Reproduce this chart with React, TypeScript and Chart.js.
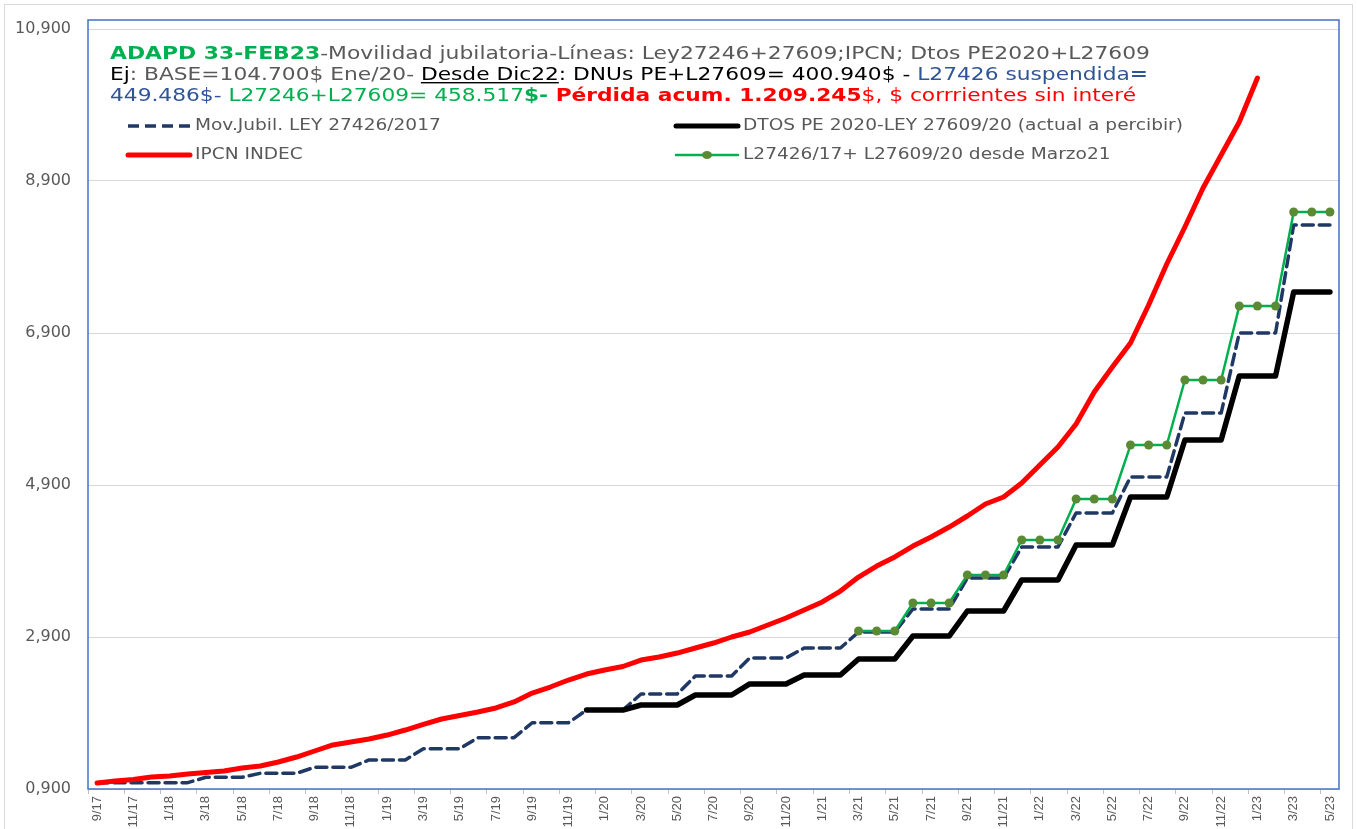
import React, { useEffect, useRef } from 'react';
import { Chart, registerables } from 'chart.js';

Chart.register(...registerables);

const months = [
  '9/17', '10/17', '11/17', '12/17',
  '1/18', '2/18', '3/18', '4/18', '5/18', '6/18', '7/18', '8/18', '9/18', '10/18', '11/18', '12/18',
  '1/19', '2/19', '3/19', '4/19', '5/19', '6/19', '7/19', '8/19', '9/19', '10/19', '11/19', '12/19',
  '1/20', '2/20', '3/20', '4/20', '5/20', '6/20', '7/20', '8/20', '9/20', '10/20', '11/20', '12/20',
  '1/21', '2/21', '3/21', '4/21', '5/21', '6/21', '7/21', '8/21', '9/21', '10/21', '11/21', '12/21',
  '1/22', '2/22', '3/22', '4/22', '5/22', '6/22', '7/22', '8/22', '9/22', '10/22', '11/22', '12/22',
  '1/23', '2/23', '3/23', '4/23', '5/23',
];

const movLey27426 = [
  983, 983, 983, 983, 983, 983,
  1054, 1054, 1054, 1107, 1107, 1107, 1186, 1186, 1186, 1282, 1282, 1282,
  1430, 1430, 1430, 1575, 1575, 1575, 1772, 1772, 1772, 1939, 1939, 1939,
  2150, 2150, 2150, 2387, 2387, 2387, 2624, 2624, 2624, 2755, 2755, 2755,
  2966, 2966, 2966, 3268, 3268, 3268, 3676, 3676, 3676, 4084, 4084, 4084,
  4532, 4532, 4532, 5005, 5005, 5005, 5847, 5847, 5847, 6900, 6900, 6900,
  8321, 8321, 8321,
];

const dtosPE = [
  null, null, null, null, null, null, null, null, null, null, null, null, null, null, null,
  null, null, null, null, null, null, null, null, null, null, null, null,
  1939, 1939, 1939, 2005, 2005, 2005, 2137, 2137, 2137, 2282, 2282, 2282,
  2400, 2400, 2400, 2611, 2611, 2611, 2913, 2913, 2913, 3242, 3242, 3242,
  3650, 3650, 3650, 4111, 4111, 4111, 4742, 4742, 4742, 5492, 5492, 5492,
  6334, 6334, 6334, 7439, 7439, 7439,
];

const ipcnIndec = [
  979, 1005, 1025, 1058, 1071, 1097, 1117, 1137, 1176, 1203, 1255, 1321, 1400, 1479, 1518,
  1558, 1610, 1676, 1749, 1821, 1867, 1913, 1966, 2045, 2163, 2242, 2334, 2413, 2466, 2512,
  2597, 2637, 2689, 2755, 2821, 2900, 2966, 3058, 3150, 3255, 3361, 3505, 3689, 3834, 3953,
  4097, 4216, 4347, 4492, 4650, 4742, 4926, 5163, 5400, 5703, 6124, 6453, 6768, 7268, 7808,
  8295, 8808, 9242, 9676, 10255, null, null, null, null,
];

const l27426L27609 = [
  null, null, null, null, null, null, null, null, null, null, null, null, null, null,
  null, null, null, null, null, null, null, null, null, null, null, null, null, null,
  null, null, null, null, null, null, null, null, null, null, null, null, null, null,
  2979, 2979, 2979, 3347, 3347, 3347, 3716, 3716, 3716, 4176, 4176, 4176,
  4716, 4716, 4716, 5426, 5426, 5426, 6282, 6282, 6282, 7255, 7255, 7255,
  8492, 8492, 8492,
];

const yTicks = [900, 2900, 4900, 6900, 8900, 10900];

const seriesLabels = [
  'Mov.Jubil. LEY 27426/2017',
  'DTOS PE 2020-LEY 27609/20 (actual a percibir)',
  'IPCN INDEC',
  'L27426/17+ L27609/20 desde Marzo21',
];

type Seg = { t: string; c: string; b?: boolean; u?: boolean };

const titleLines: Seg[][] = [
  [
    { t: 'ADAPD 33-FEB23', c: '#00b050', b: true },
    { t: '-Movilidad jubilatoria-Líneas: Ley27246+27609;IPCN; Dtos PE2020+L27609', c: '#595959' },
  ],
  [
    { t: 'Ej', c: '#000000' },
    { t: ': BASE=104.700$ Ene/20- ', c: '#595959' },
    { t: 'Desde Dic22', c: '#000000', u: true },
    { t: ': DNUs PE+L27609= 400.940$ - ', c: '#000000' },
    { t: 'L27426 suspendida', c: '#2f5597' },
    { t: '=', c: '#2f5597', b: true },
  ],
  [
    { t: '449.486$- ', c: '#2f5597' },
    { t: 'L27246+L27609= 458.517', c: '#00b050' },
    { t: '$- ', c: '#00b050', b: true },
    { t: 'Pérdida acum. 1.209.245', c: '#ff0000', b: true },
    { t: '$, $ corrrientes sin interé', c: '#ff0000' },
  ],
];

const FONT = '"DejaVu Sans", Verdana, sans-serif';

function fmtTick(v: number): string {
  const th = Math.floor(v / 1000);
  const rest = String(Math.round(v % 1000)).padStart(3, '0');
  return th + ',' + rest;
}

const decorPlugin = {
  id: 'decor',
  beforeDraw(chart: any) {
    const { ctx, width, height } = chart;
    ctx.save();
    ctx.fillStyle = '#ffffff';
    ctx.fillRect(0, 0, width, height);
    ctx.strokeStyle = '#d9d9d9';
    ctx.lineWidth = 1;
    ctx.strokeRect(4.5, 4.5, width - 9, height + 20);
    ctx.restore();
  },
  beforeDatasetsDraw(chart: any) {
    const { ctx, chartArea } = chart;
    ctx.save();
    ctx.strokeStyle = '#4472c4';
    ctx.lineWidth = 1.5;
    ctx.strokeRect(chartArea.left, chartArea.top - 9, chartArea.right - chartArea.left, chartArea.bottom - chartArea.top + 9);
    ctx.restore();
  },
  afterDraw(chart: any) {
    const { ctx } = chart;
    ctx.save();
    // Title block
    const size = 18;
    const x0 = 110;
    const baselines = [59, 80, 101];
    const targets = [1040, 1038, 1026];
    titleLines.forEach((segs, li) => {
      let total = 0;
      segs.forEach((s) => {
        ctx.font = (s.b ? 'bold ' : '') + size + 'px ' + FONT;
        total += ctx.measureText(s.t).width;
      });
      const sc = targets[li] / total;
      ctx.save();
      ctx.translate(x0, baselines[li]);
      ctx.scale(sc, 1);
      let cx = 0;
      ctx.textBaseline = 'alphabetic';
      segs.forEach((s) => {
        ctx.font = (s.b ? 'bold ' : '') + size + 'px ' + FONT;
        ctx.fillStyle = s.c;
        ctx.fillText(s.t, cx, 0);
        const w = ctx.measureText(s.t).width;
        if (s.u) {
          ctx.fillRect(cx, 2, w, 1.4);
        }
        cx += w;
      });
      ctx.restore();
    });

    // Legend
    const ds = chart.data.datasets;
    const items = [
      { d: ds[0], x: 128, y: 126 },
      { d: ds[1], x: 676, y: 126 },
      { d: ds[2], x: 128, y: 155 },
      { d: ds[3], x: 676, y: 155 },
    ];
    items.forEach(({ d, x, y }) => {
      ctx.save();
      ctx.strokeStyle = d.borderColor;
      ctx.lineWidth = Math.min(d.borderWidth, 5);
      ctx.setLineDash(d.borderDash || []);
      ctx.lineCap = d.borderDash ? 'butt' : 'round';
      ctx.beginPath();
      ctx.moveTo(x, y);
      ctx.lineTo(x + 62, y);
      ctx.stroke();
      ctx.setLineDash([]);
      if (d.pointRadius > 0) {
        ctx.fillStyle = d.pointBackgroundColor;
        ctx.beginPath();
        ctx.ellipse(x + 31, y, 5, 4, 0, 0, Math.PI * 2);
        ctx.fill();
      }
      ctx.font = '16px ' + FONT;
      ctx.fillStyle = '#595959';
      ctx.textBaseline = 'middle';
      ctx.translate(x + 67, y);
      ctx.scale(1.16, 1);
      ctx.fillText(d.label, 0, 0);
      ctx.restore();
    });
    ctx.restore();
  },
};

export default function App() {
  const ref = useRef<HTMLCanvasElement | null>(null);
  useEffect(() => {
    if (!ref.current) return;
    const chart = new Chart(ref.current, {
      type: 'line',
      data: {
        labels: months,
        datasets: [
          {
            label: seriesLabels[0],
            data: movLey27426,
            borderColor: '#203864',
            borderWidth: 3.5,
            borderDash: [11, 6],
            pointRadius: 0,
            fill: false,
            order: 4,
          },
          {
            label: seriesLabels[1],
            data: dtosPE,
            borderColor: '#000000',
            borderWidth: 5.5,
            pointRadius: 0,
            fill: false,
            order: 3,
          },
          {
            label: seriesLabels[2],
            data: ipcnIndec,
            borderColor: '#ff0000',
            borderWidth: 5,
            pointRadius: 0,
            fill: false,
            order: 2,
          },
          {
            label: seriesLabels[3],
            data: l27426L27609,
            borderColor: '#00b050',
            borderWidth: 2.5,
            pointRadius: 4.5,
            pointBorderWidth: 0,
            pointBackgroundColor: '#5b8a35',
            pointBorderColor: '#5b8a35',
            fill: false,
            order: 1,
          },
        ] as any,
      },
      options: {
        animation: false,
        responsive: true,
        maintainAspectRatio: false,
        layout: { padding: { top: 29, right: 18, left: 0, bottom: 0 } },
        elements: { line: { tension: 0, borderJoinStyle: 'round', borderCapStyle: 'round' } as any },
        plugins: {
          legend: { display: false },
          tooltip: { enabled: false },
          title: { display: false },
        },
        scales: {
          x: {
            type: 'category',
            offset: true,
            grid: {
              offset: true,
              drawOnChartArea: false,
              drawTicks: true,
              tickLength: 5,
              tickColor: (c: any) => (c.index % 2 === 0 ? '#bfbfbf' : 'rgba(0,0,0,0)'),
            } as any,
            border: { display: true, color: '#d9d9d9', width: 1 },
            ticks: {
              autoSkip: false,
              maxRotation: 90,
              minRotation: 90,
              padding: 2,
              color: '#595959',
              font: { family: '"Liberation Sans", Arial, sans-serif', size: 13 },
              callback: (_v: any, i: number) => (i % 2 === 0 ? months[i] : ''),
            },
            afterFit: (s: any) => {
              s.height = 40;
            },
          },
          y: {
            min: 900,
            max: 10900,
            afterBuildTicks: (s: any) => {
              s.ticks = yTicks.map((v) => ({ value: v }));
            },
            grid: { color: '#d9d9d9', drawTicks: false, lineWidth: 1 },
            border: { display: false },
            ticks: {
              padding: 17,
              color: '#595959',
              font: { family: FONT, size: 16 },
              callback: (v: any) => fmtTick(Number(v)),
            },
            afterFit: (s: any) => {
              s.width = 88;
            },
          },
        },
      },
      plugins: [decorPlugin],
    } as any);
    return () => chart.destroy();
  }, []);
  return (
    <div style={{ position: 'fixed', left: 0, top: 0, width: 1357, height: 829, background: '#fff' }}>
      <canvas ref={ref} />
    </div>
  );
}
